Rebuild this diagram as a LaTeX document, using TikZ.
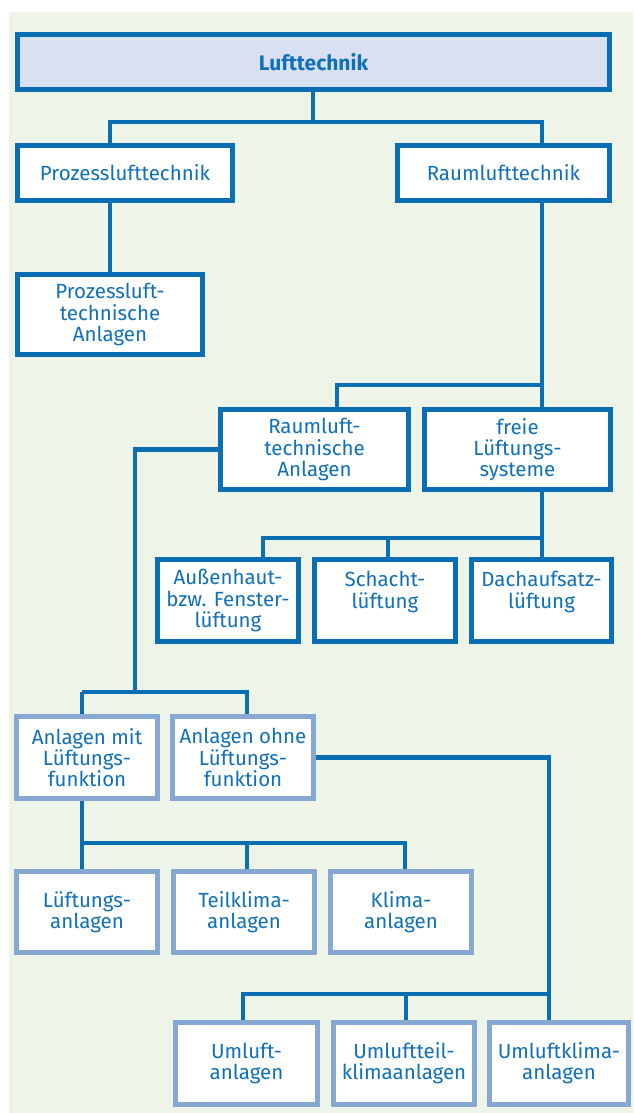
\documentclass[tikz,border=0pt]{standalone}
\usepackage{fontspec}
\setmainfont{Fira Sans}
\usetikzlibrary{positioning,calc}
\definecolor{Rule}{HTML}{0A6EB4}
\definecolor{RuleLight}{HTML}{88A8D4}
\definecolor{Ink}{HTML}{1070B8}
\definecolor{Paper}{HTML}{EEF5E8}
\definecolor{HeadFill}{HTML}{D8E0F2}
\begin{document}
\begin{tikzpicture}[
  x=1pt,y=-1pt,
  every node/.style={font=\fontsize{20.5}{21.2}\selectfont,text=Ink},
  box/.style={draw=Rule,line width=4.5pt,fill=white,align=center,inner sep=0pt},
  lightbox/.style={box,draw=RuleLight},
  conn/.style={draw=Rule,line width=4.5pt}
]
% background
\fill[Paper] (9,12) rectangle (633,1113);
\useasboundingbox (0,0) rectangle (633,1113);
% top levels
\node[box,fill=HeadFill,minimum width=592pt,minimum height=55pt,font=\fontsize{21}{21.2}\selectfont\bfseries] (luft) at (313.5,62) {Lufttechnik};
\node[box,minimum width=215pt,minimum height=55pt] (prozess) at (125,173) {Prozesslufttechnik};
\node[box,minimum width=212pt,minimum height=55pt] (raum) at (503.5,173) {Raumlufttechnik};
\node[box,minimum width=185pt,minimum height=80pt] (prozanl) at (110,314.5) {Prozessluft-\\technische\\Anlagen};
\node[box,minimum width=188pt,minimum height=80pt] (raumanl) at (314.5,449.5) {Raumluft-\\technische\\Anlagen};
\node[box,minimum width=186pt,minimum height=80pt] (frei) at (517.5,449.5) {freie\\Lüftungs-\\systeme};
% freie Lueftung
\node[box,minimum width=141pt,minimum height=82pt] (aussen) at (228,600.5) {Außenhaut-\\bzw. Fenster-\\lüftung};
\node[box,minimum width=141pt,minimum height=82pt] (schacht) at (385,600.5) {Schacht-\\lüftung\\\phantom{l}};
\node[box,minimum width=140pt,minimum height=82pt] (dach) at (541.5,600.5) {Dachaufsatz-\\lüftung\\\phantom{l}};
% RLT-Anlagen
\node[lightbox,minimum width=141pt,minimum height=82pt] (mit) at (87,757.5) {Anlagen mit\\Lüftungs-\\funktion};
\node[lightbox,minimum width=141pt,minimum height=82pt] (ohne) at (243,757.5) {Anlagen ohne\\Lüftungs-\\funktion};
\node[lightbox,minimum width=141pt,minimum height=81pt] (lueft) at (87,912) {Lüftungs-\\anlagen};
\node[lightbox,minimum width=141pt,minimum height=81pt] (teil) at (244,912) {Teilklima-\\anlagen};
\node[lightbox,minimum width=141pt,minimum height=81pt] (klima) at (401,912) {Klima-\\anlagen};
\node[lightbox,minimum width=142pt,minimum height=82pt] (umluft) at (246.5,1063.5) {Umluft-\\anlagen};
\node[lightbox,minimum width=141pt,minimum height=82pt] (umteil) at (404,1063.5) {Umluftteil-\\klimaanlagen};
\node[lightbox,minimum width=139pt,minimum height=82pt] (umklima) at (559,1063.5) {Umluftklima-\\anlagen};
% junctions
\coordinate (j1) at (313,122);
\coordinate (j2) at (542,385);
\coordinate (j3) at (542,538);
\coordinate (j4) at (135,692);
\coordinate (j5) at (82,843);
\coordinate (j6) at (549,994);
% connectors
\draw[conn] (luft.south -| j1) -- (j1);
\draw[conn] (j1) -| (prozess.north -| prozanl.north);
\draw[conn] (j1) -| (raum.north -| j2);
\draw[conn] (prozess.south -| prozanl.north) -- (prozanl.north);
\draw[conn] (raum.south -| j2) -- (frei.north -| j2);
\draw[conn] (j2) -| (raumanl.north -| 337,0);
\draw[conn] (frei.south -| j3) -- (dach.north -| j3);
\draw[conn] (j3) -| (aussen.north -| 263,0);
\draw[conn] (j3 -| schacht.north) ++(3,0) -- ([xshift=3pt]schacht.north);
\draw[conn] (raumanl.west) -| (j4);
\draw[conn] (j4 -| 82,0) -| (ohne.north -| 247,0);
\draw[conn] (j4 -| 82,0) -- (mit.north -| j5);
\draw[conn] (mit.south -| j5) -- (lueft.north -| j5);
\draw[conn] (j5) -| (klima.north -| 405,0);
\draw[conn] (j5 -| 247,0) -- (teil.north -| 247,0);
\draw[conn] (ohne.east) -| (umklima.north -| j6);
\draw[conn] (j6) -| (umluft.north -| 243,0);
\draw[conn] (j6 -| 406,0) -- (umteil.north -| 406,0);
\end{tikzpicture}
\end{document}
